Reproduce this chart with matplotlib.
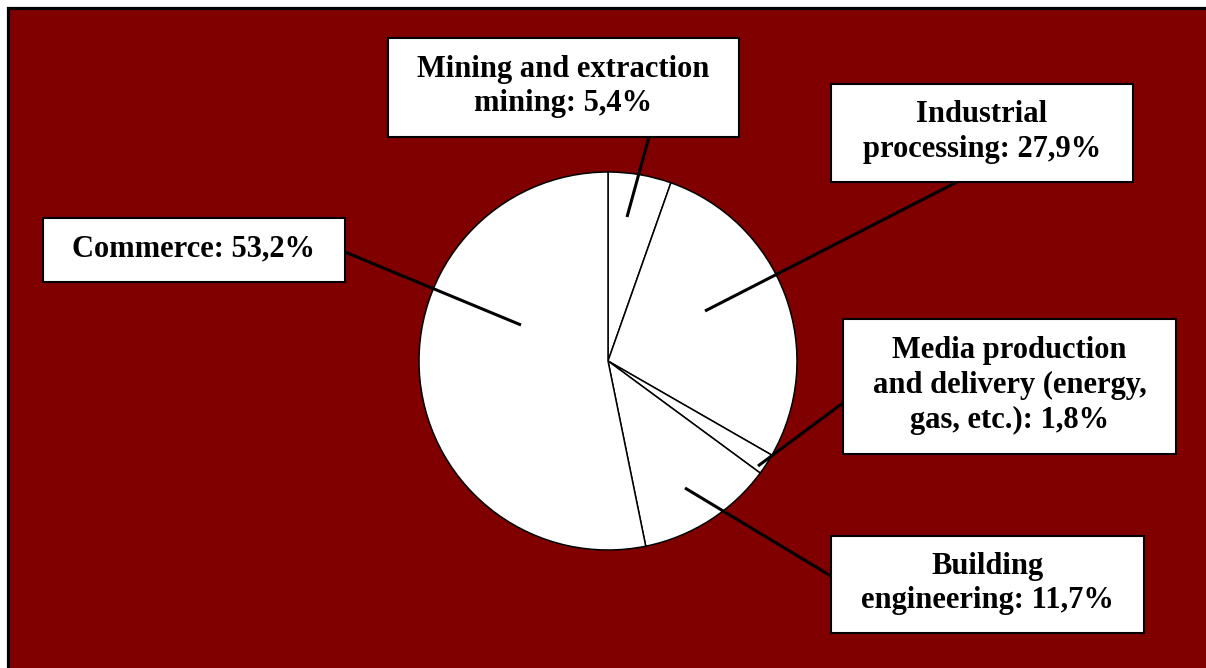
import matplotlib
matplotlib.use('Agg')
import matplotlib.pyplot as plt
from matplotlib.patches import Rectangle

plt.rcParams['font.family'] = 'serif'
plt.rcParams['font.serif'] = ['Liberation Serif', 'DejaVu Serif']

# ---- data ---------------------------------------------------------------
SECTORS = ['Mining and extraction\nmining', 'Industrial\nprocessing',
           'Media production\nand delivery (energy,\ngas, etc.)',
           'Building\nengineering', 'Commerce']
SHARES = [5.4, 27.9, 1.8, 11.7, 53.2]

# ---- layout (pixel coords, origin top-left) -----------------------------
W, H = 1206, 668
PIE_CENTER = (608, 361)
PIE_RADIUS = 189
# box (x0, y0, x1, y1), leader start, leader end
BOXES = [
    ((388, 38, 739, 137), (649, 137), (627, 217)),
    ((831, 84, 1133, 182), (957, 182), (705, 311)),
    ((843, 319, 1176, 454), (843, 403), (758, 466)),
    ((831, 536, 1144, 633), (831, 576), (685, 488)),
    ((43, 218, 345, 282), (345, 252), (521, 325)),
]
BG = '#800000'


def fy(py):
    # flip pixel row to data y
    return H - py


fig = plt.figure(figsize=(W / 100, H / 100), dpi=100, facecolor='white')
ax = fig.add_axes([0, 0, 1, 1])
ax.set_axis_off()

# dark red chart area with black frame (runs off right/bottom edge)
ax.add_patch(Rectangle((7.5, fy(690)), 1220, 690 - 7.5,
                       facecolor=BG, edgecolor='black', linewidth=2.3,
                       zorder=0))

ax.pie(SHARES, startangle=90, counterclock=False,
       center=(PIE_CENTER[0], fy(PIE_CENTER[1])), radius=PIE_RADIUS,
       colors=['white'] * len(SHARES), frame=True,
       wedgeprops=dict(edgecolor='black', linewidth=1.1))

for name, val, (box, p0, p1) in zip(SECTORS, SHARES, BOXES):
    x0, y0, x1, y1 = box
    ax.plot([p0[0], p1[0]], [fy(p0[1]), fy(p1[1])], color='black',
            linewidth=2.2, solid_capstyle='butt', zorder=5)
    ax.add_patch(Rectangle((x0, fy(y1)), x1 - x0, y1 - y0,
                           facecolor='white', edgecolor='black',
                           linewidth=1.5, zorder=6))
    pct = f'{val:.1f}'.replace('.', ',')
    label = f'{name}: {pct}%'
    ax.text((x0 + x1) / 2, fy((y0 + y1) / 2 - 1), label,
            ha='center', va='center', multialignment='center',
            fontsize=22, fontweight='bold', linespacing=1.27, zorder=7)

ax.set_xlim(0, W)
ax.set_ylim(0, H)
ax.set_aspect('equal')

fig.savefig('out.png', dpi=100, facecolor='white')
